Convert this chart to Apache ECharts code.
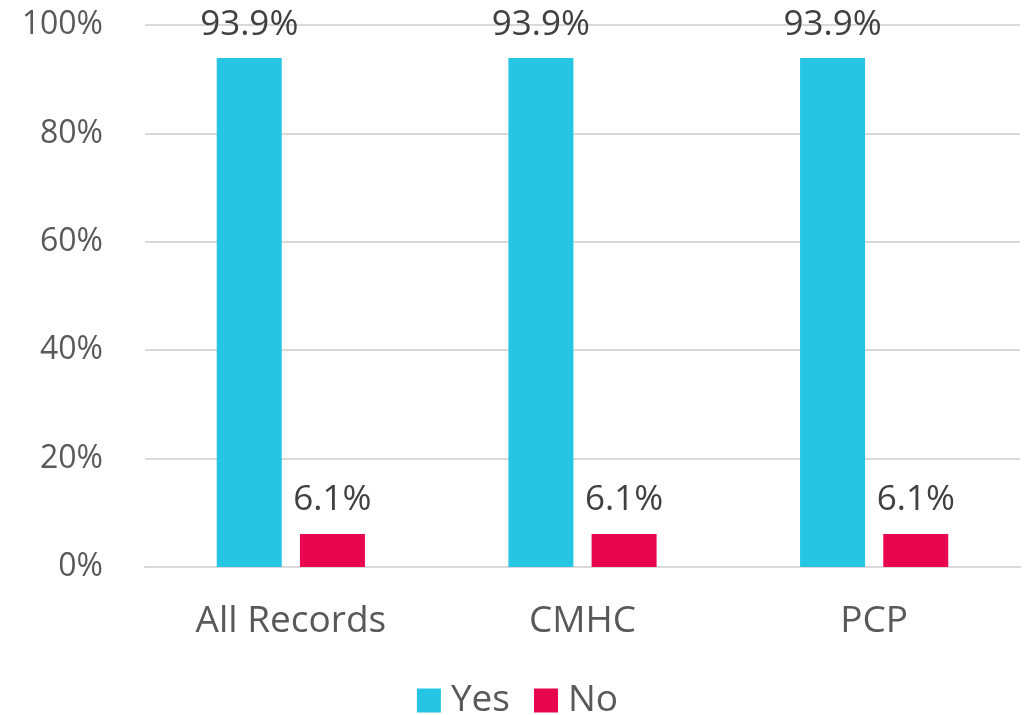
<!DOCTYPE html>
<html><head><meta charset="utf-8">
<script src="https://cdn.jsdelivr.net/npm/echarts@6/dist/echarts.min.js"></script>
<style>html,body{margin:0;padding:0;background:#fff}#c{width:1035px;height:715px}</style>
</head><body><div id="c"></div>
<script>
const categories = ['All Records', 'CMHC', 'PCP'];
const yesValues = [93.9, 93.9, 93.9];
const noValues = [6.1, 6.1, 6.1];
const yTicks = [0, 20, 40, 60, 80, 100];

const FONT = 'Open Sans';
const chart = echarts.init(document.getElementById('c'));
const label = {
  show: true, position: 'top', distance: 16,
  fontFamily: FONT, fontSize: 35, color: '#404040',
  formatter: p => p.value.toFixed(1) + '%'
};
chart.setOption({
  animation: false,
  textStyle: { fontFamily: FONT },
  grid: { left: 145, right: 15, top: 25, bottom: 148, containLabel: false },
  legend: {
    top: 677, left: 'center', itemWidth: 24, itemHeight: 24, itemGap: 24,
    icon: 'rect',
    textStyle: { fontFamily: FONT, fontSize: 37, color: '#595959', padding: [0, 0, 0, 5] },
    data: ['Yes', 'No']
  },
  xAxis: {
    type: 'category', data: categories,
    axisLine: { lineStyle: { color: '#d9d9d9', width: 2 } },
    axisTick: { show: false },
    axisLabel: { fontFamily: FONT, fontSize: 37, color: '#595959', margin: 36 }
  },
  yAxis: {
    type: 'value', min: yTicks[0], max: yTicks[yTicks.length - 1], interval: 20,
    axisLine: { show: false }, axisTick: { show: false },
    splitLine: { lineStyle: { color: '#d9d9d9', width: 2 } },
    axisLabel: { fontFamily: FONT, fontSize: 32, color: '#595959', margin: 42, formatter: v => v + '%' }
  },
  series: [
    { name: 'Yes', type: 'bar', data: yesValues, barWidth: 65, barGap: '28%',
      itemStyle: { color: '#25C5E3' }, label },
    { name: 'No', type: 'bar', data: noValues, barWidth: 65,
      itemStyle: { color: '#E8064F' }, label }
  ]
});
</script></body></html>
